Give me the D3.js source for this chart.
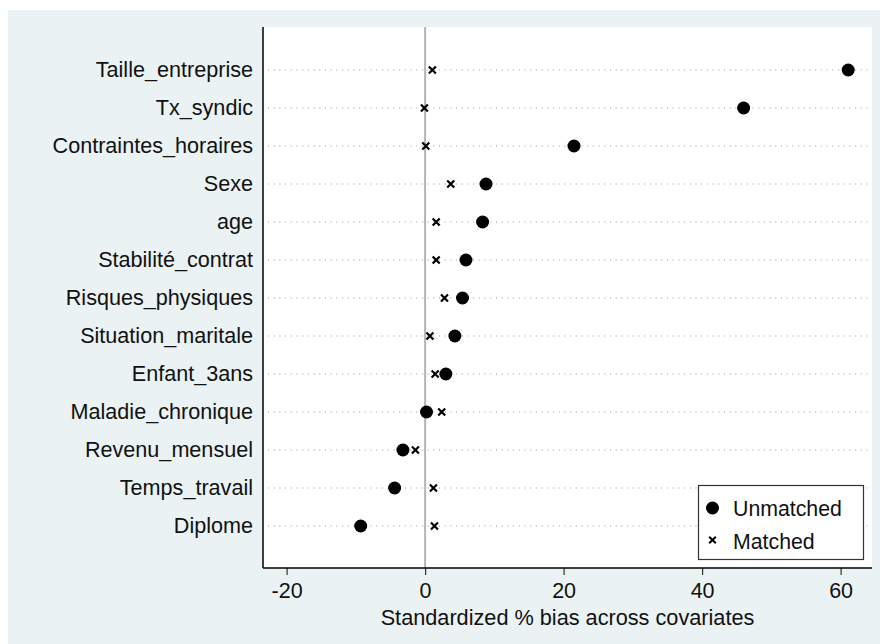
<!DOCTYPE html>
<html>
<head>
<meta charset="utf-8">
<script src="https://cdn.jsdelivr.net/npm/d3@7/dist/d3.min.js"></script>
<style>
  html, body { margin: 0; padding: 0; background: #ffffff; }
  svg { display: block; font-family: "Liberation Sans", Arial, Helvetica, sans-serif; }
</style>
</head>
<body>
<svg id="chart" width="880" height="644"></svg>
<script>
// Covariates, top to bottom
const covariates = [
  "Taille_entreprise", "Tx_syndic", "Contraintes_horaires", "Sexe", "age",
  "Stabilité_contrat", "Risques_physiques", "Situation_maritale", "Enfant_3ans",
  "Maladie_chronique", "Revenu_mensuel", "Temps_travail", "Diplome"
];
// Standardized % bias before matching
const unmatched = [61.1, 46.0, 21.5, 8.8, 8.3, 5.9, 5.4, 4.3, 3.0, 0.2, -3.2, -4.4, -9.3];
// Standardized % bias after matching
const matched = [1.05, -0.1, 0.1, 3.7, 1.6, 1.6, 2.8, 0.7, 1.45, 2.4, -1.4, 1.2, 1.35];
const xTicks = [-20, 0, 20, 40, 60];
const legendLabels = ["Unmatched", "Matched"];

const svg = d3.select("#chart");
const W = 880, H = 644;
const FONT = "Liberation Sans, Arial, sans-serif";

// graph region
svg.append("rect").attr("x", 0).attr("y", 0).attr("width", W).attr("height", H).attr("fill", "#ffffff");
svg.append("rect").attr("x", 8).attr("y", 10).attr("width", W - 8).attr("height", H - 10).attr("fill", "#eaf2f3");

// plot region
const plot = { left: 263, right: 872, top: 27, bottom: 568 };
svg.append("rect")
  .attr("x", plot.left).attr("y", plot.top)
  .attr("width", plot.right - plot.left).attr("height", plot.bottom - plot.top)
  .attr("fill", "#ffffff");

const x = d3.scaleLinear().domain([-20, 60]).range([286.6, 840.6]);
const y = d3.scalePoint().domain(covariates).range([70, 526]);

// dotted row guides
svg.append("g").selectAll("line").data(covariates).join("line")
  .attr("x1", plot.left + 5).attr("x2", plot.right - 3)
  .attr("y1", d => y(d)).attr("y2", d => y(d))
  .attr("stroke", "#9a9a9a").attr("stroke-width", 1)
  .attr("stroke-dasharray", "1,4.7");

// zero reference line
svg.append("line")
  .attr("x1", x(0)).attr("x2", x(0))
  .attr("y1", plot.top).attr("y2", plot.bottom)
  .attr("stroke", "#b4b4b4").attr("stroke-width", 2);

// x axis
const xAxis = d3.axisBottom(x).tickValues(xTicks).tickSize(7).tickPadding(8)
  .tickFormat(d => String(d));
const gx = svg.append("g").attr("transform", `translate(0,${plot.bottom})`).call(xAxis);
gx.select(".domain").remove();
gx.append("line").attr("x1", plot.left).attr("x2", plot.right).attr("y1", 0).attr("y2", 0)
  .attr("stroke", "#000").attr("stroke-width", 1.5);
gx.selectAll(".tick line").attr("stroke", "#333").attr("stroke-width", 1.2);
gx.selectAll(".tick text").attr("font-size", 21.5).attr("fill", "#111").attr("font-family", FONT);

// y axis
const yAxis = d3.axisLeft(y).tickSize(0).tickPadding(10);
const gy = svg.append("g").attr("transform", `translate(${plot.left},0)`).call(yAxis);
gy.select(".domain").remove();
gy.append("line").attr("x1", 0).attr("x2", 0).attr("y1", plot.top).attr("y2", plot.bottom)
  .attr("stroke", "#000").attr("stroke-width", 1.5);
gy.selectAll(".tick text").attr("font-size", 21.6).attr("fill", "#111").attr("font-family", FONT);

// axis title
svg.append("text")
  .attr("x", 567.5).attr("y", 625)
  .attr("text-anchor", "middle").attr("font-size", 21.7).attr("fill", "#111")
  .text("Standardized % bias across covariates");

// x-marker path
function cross(cx, cy, s) {
  return `M${cx - s},${cy - s}L${cx + s},${cy + s}M${cx - s},${cy + s}L${cx + s},${cy - s}`;
}

// matched markers
svg.append("g").selectAll("path").data(covariates).join("path")
  .attr("d", (d, i) => cross(x(matched[i]), y(d), 3.5))
  .attr("stroke", "#000").attr("stroke-width", 2.2).attr("fill", "none");

// unmatched markers
svg.append("g").selectAll("circle").data(covariates).join("circle")
  .attr("cx", (d, i) => x(unmatched[i])).attr("cy", d => y(d))
  .attr("r", 6.5).attr("fill", "#000");

// legend
const lg = svg.append("g");
lg.append("rect").attr("x", 698.5).attr("y", 485.5).attr("width", 165).attr("height", 74)
  .attr("fill", "#ffffff").attr("stroke", "#333").attr("stroke-width", 1.2);
lg.append("circle").attr("cx", 712.5).attr("cy", 508).attr("r", 6.5).attr("fill", "#000");
lg.append("path").attr("d", cross(712.5, 540, 3.3)).attr("stroke", "#000").attr("stroke-width", 2);
lg.selectAll("text").data(legendLabels).join("text")
  .attr("x", 733).attr("y", (d, i) => 515.5 + i * 33)
  .attr("font-size", 21.3).attr("fill", "#111")
  .text(d => d);
</script>
</body>
</html>
